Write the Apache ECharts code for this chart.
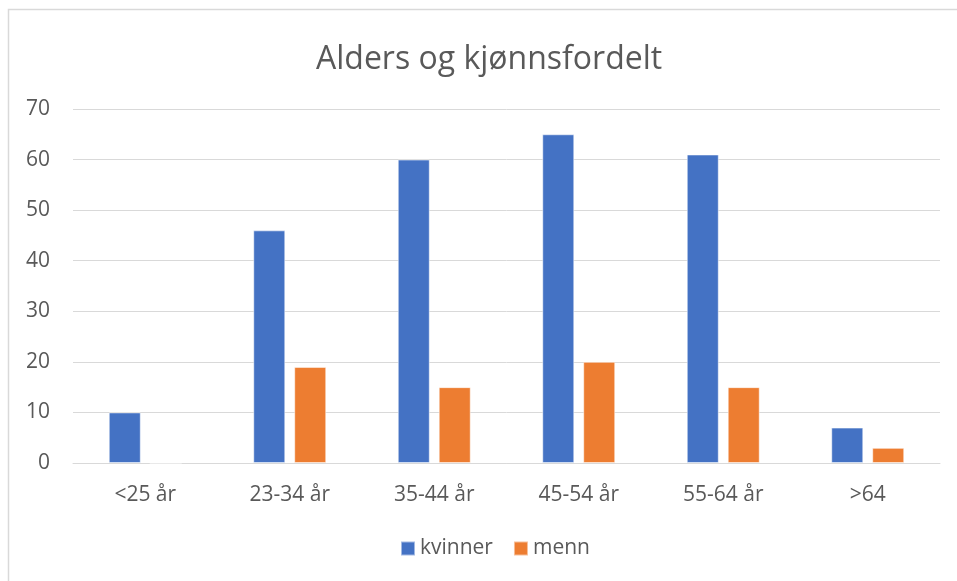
<!DOCTYPE html>
<html>
<head>
<meta charset="utf-8">
<script src="https://cdn.jsdelivr.net/npm/echarts@6/dist/echarts.min.js"></script>
<style>
  html, body { margin: 0; padding: 0; background: #fff; }
  #chart { width: 957px; height: 581px; }
</style>
</head>
<body>
<div id="chart"></div>
<script>
var categories = ["<25 år", "23-34 år", "35-44 år", "45-54 år", "55-64 år", ">64"];
var kvinner = [10, 46, 60, 65, 61, 7];
var menn = [0, 19, 15, 20, 15, 3];
var yTicks = { min: 0, max: 70, interval: 10 };

var textColor = "#595959";
var gridColor = "#D9D9D9";
var font = "Open Sans";

var myChart = echarts.init(document.getElementById("chart"));
var option = {
  backgroundColor: "#fff",
  animation: false,
  title: {
    text: "Alders og kjønnsfordelt",
    left: 311,
    top: 39,
    textStyle: {
      color: textColor,
      fontFamily: font,
      fontSize: 32,
      fontWeight: "normal"
    }
  },
  graphic: [
    {
      type: "rect",
      shape: { x: 8.5, y: 9.5, width: 970, height: 600 },
      style: { fill: null, stroke: gridColor, lineWidth: 1.5 },
      silent: true
    }
  ],
  legend: {
    bottom: 17,
    left: 395,
    itemWidth: 14,
    itemHeight: 14,
    itemGap: 20,
    icon: "rect",
    textStyle: { color: textColor, fontFamily: font, fontSize: 21 },
    data: ["kvinner", "menn"]
  },
  grid: {
    left: 73,
    right: 17,
    top: 109,
    bottom: 118
  },
  xAxis: {
    type: "category",
    data: categories,
    axisLine: { lineStyle: { color: gridColor, width: 1 } },
    axisTick: { show: false },
    axisLabel: {
      color: textColor,
      fontFamily: font,
      fontSize: 21,
      margin: 22
    }
  },
  yAxis: {
    type: "value",
    min: yTicks.min,
    max: yTicks.max,
    interval: yTicks.interval,
    axisLine: { show: false },
    axisTick: { show: false },
    splitLine: { lineStyle: { color: gridColor, width: 1 } },
    axisLabel: {
      color: textColor,
      fontFamily: font,
      fontSize: 21,
      margin: 23
    }
  },
  series: [
    {
      name: "kvinner",
      type: "bar",
      barWidth: 32,
      barGap: "28%",
      itemStyle: { color: "#4472C4", borderColor: "rgba(255,255,255,0.5)", borderWidth: 1 },
      data: kvinner
    },
    {
      name: "menn",
      type: "bar",
      barWidth: 32,
      barGap: "28%",
      itemStyle: { color: "#ED7D31", borderColor: "rgba(255,255,255,0.5)", borderWidth: 1 },
      data: menn
    }
  ]
};
myChart.setOption(option);
</script>
</body>
</html>
